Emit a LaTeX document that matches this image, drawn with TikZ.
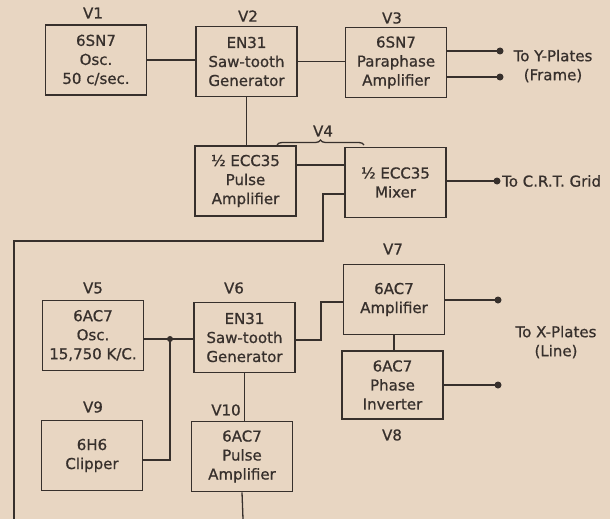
\documentclass[tikz,border=0pt]{standalone}
\usepackage{fontspec}
\setmainfont{DejaVu Sans}[BoldFont={DejaVu Sans}, BoldFeatures={FakeBold=0.8}]
\usetikzlibrary{decorations.pathreplacing}
\definecolor{paper}{RGB}{232,214,194}
\definecolor{ink}{RGB}{55,48,44}
\begin{document}
\begin{tikzpicture}[x=1pt,y=-1pt,
  box/.style={draw=ink, line width=1.7pt, rectangle, minimum width=101pt, minimum height=70pt,
    inner sep=0pt, align=center, text=ink, font=\fontsize{15}{19}\selectfont\bfseries},
  lab/.style={text=ink, inner sep=0pt, font=\fontsize{15}{19}\selectfont\bfseries},
  txt/.style={text=ink, inner sep=0pt, align=center, font=\fontsize{15}{19}\selectfont\bfseries},
  wire/.style={draw=ink, line width=1.3pt},
  dot/.style={circle, fill=ink, inner sep=0pt, minimum size=7pt}]
\fill[paper] (0,0) rectangle (610,519);
\useasboundingbox (0,0) rectangle (610,519);

% boxes
\node[box] (v1) at (96,60) {6SN7\\Osc.\\50 c/sec.};
\node[box] (v2) at (246.5,61.5) {EN31\\Saw-tooth\\Generator};
\node[box] (v3) at (396,62.5) {6SN7\\Paraphase\\Amplifier};
\node[box] (pa) at (245.5,181) {½ ECC35\\Pulse\\Amplifier};
\node[box] (mx) at (395.5,182.5) {½ ECC35\\Mixer};
\node[box] (v5) at (93,335.5) {6AC7\\Osc.\\15,750 K/C.};
\node[box] (v6) at (244.5,337.5) {EN31\\Saw-tooth\\Generator};
\node[box] (v9) at (92,455.5) {6H6\\Clipper};
\node[box] (v10) at (242,456.5) {6AC7\\Pulse\\Amplifier};
\node[box] (v7) at (394,299.5) {6AC7\\Amplifier};
\node[box, minimum height=68pt] (v8) at (392.5,385) {6AC7\\Phase\\Inverter};

% labels
\node[lab] (l1) at (93,13) {V1};
\node[lab] (l2) at (248,16) {V2};
\node[lab] (l3) at (392,18) {V3};
\node[lab] (l4) at (323,131) {V4};
\node[lab] (l5) at (93,288) {V5};
\node[lab] (l6) at (234,288) {V6};
\node[lab] (l9) at (93,407) {V9};
\node[lab] (l10) at (226,410) {V10};
\node[lab] (l7) at (393,249) {V7};
\node[lab] (l8) at (392,435) {V8};

% output terminals
\node[dot] (y1) at (500,51) {};
\node[dot] (y2) at (500,77) {};
\node[dot] (g1) at (497,181) {};
\node[dot] (x1) at (498,300) {};
\node[dot] (x2) at (498,385) {};
\node[txt] (ty) at (553,66) {To Y-Plates\\(Frame)};
\node[txt, anchor=west] (tg) at (502,181) {To C.R.T. Grid};
\node[txt] (tx) at (556,342) {To X-Plates\\(Line)};

% helper coordinates
\coordinate (h1) at (0,165);
\coordinate (m1) at (323,194);
\coordinate (m2) at (323,241);
\coordinate (m3) at (14,241);
\coordinate (m4) at (14,519);
\coordinate (j) at (170,339);
\node[dot, minimum size=6pt] (jd) at (j) {};
\coordinate (c1) at (170,460);
\coordinate (k1) at (321,340);
\coordinate (k2) at (321,302);
\coordinate (b10) at (243,519);

% connectors
\draw[wire] (v1.east) -- (v1.east -| v2.west);
\draw[wire] (v2.east) -- (v2.east -| v3.west);
\draw[wire] (v3.east |- y1) -- (y1.center);
\draw[wire] (v3.east |- y2) -- (y2.center);
\draw[wire] (v2.south) -- (v2.south |- pa.north);
\draw[wire] (pa.east |- h1) -- (mx.west |- h1);
\draw[wire] (mx.east |- g1) -- (g1.center);
\draw[wire] (mx.west |- m1) -- (m1) -- (m2) -- (m3) -- (m4);
\draw[wire] (v5.east |- j) -- (jd.center) -- (v6.west |- j);
\draw[wire] (v9.east |- c1) -- (c1) -- (jd.center);
\draw[wire] (v6.east |- k1) -- (k1) -- (k2) -- (v7.west |- k2);
\draw[wire] (v7.east |- x1) -- (x1.center);
\draw[wire] (v7.south) -- (v7.south |- v8.north);
\draw[wire] (v8.east |- x2) -- (x2.center);
\draw[wire] (v6.south) -- (v6.south |- v10.north);
\draw[wire] (v10.south) -- (b10);

% brace for V4
\draw[wire, decorate, decoration={brace, amplitude=5pt}] (277,145) -- (364,145);
\end{tikzpicture}
\end{document}
